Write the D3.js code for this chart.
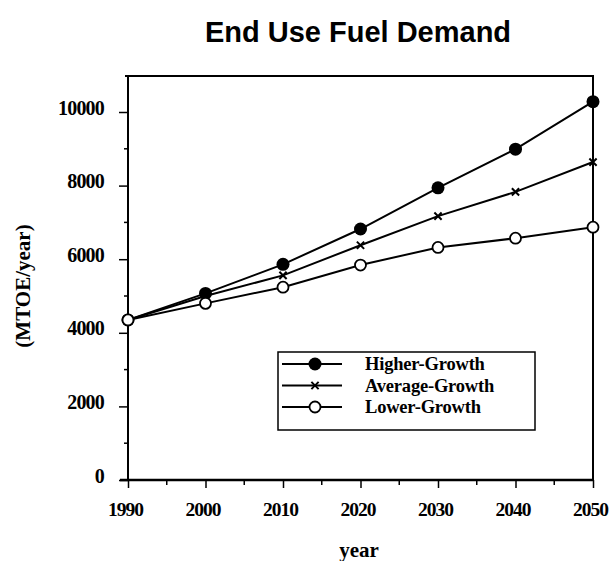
<!DOCTYPE html>
<html>
<head>
<meta charset="utf-8">
<script src="https://cdn.jsdelivr.net/npm/d3@7"></script>
<style>
  body { margin: 0; background: #fff; }
  text { fill: #000; }
  .serif { font-family: "Liberation Serif", "Times New Roman", serif; font-weight: bold; }
</style>
</head>
<body>
<script>
	// data
	var years = [1990, 2000, 2010, 2020, 2030, 2040, 2050];
	var higherGrowth = [4350, 5070, 5860, 6820, 7940, 8990, 10280];
	var averageGrowth = [4350, 5000, 5560, 6380, 7170, 7830, 8640];
	var lowerGrowth = [4350, 4800, 5240, 5840, 6320, 6570, 6870];
	var yTicks = [0, 2000, 4000, 6000, 8000, 10000];
	var xTicks = [1990, 2000, 2010, 2020, 2030, 2040, 2050];
	var seriesNames = ["Higher-Growth", "Average-Growth", "Lower-Growth"];

	var width = 611, height = 561;
	var margin = {top: 76, right: 18, bottom: 81, left: 128};

	var svg = d3.select("body").append("svg")
	    .attr("width", width)
	    .attr("height", height);

	var x = d3.scaleLinear().domain([1990, 2050]).range([margin.left, width - margin.right]);
	var y = d3.scaleLinear().domain([0, 10000]).range([height - margin.bottom, height - margin.bottom - 368]);

	// title
	svg.append("text")
	    .attr("x", 358).attr("y", 42)
	    .attr("text-anchor", "middle")
	    .style("font-family", "'Liberation Sans', Arial, sans-serif")
	    .style("font-weight", "bold")
	    .style("font-size", "29px")
	    .text("End Use Fuel Demand");

	// frame top + right
	svg.append("path")
	    .attr("d", "M" + (x(1990) - 3) + "," + margin.top + "H" + x(2050) + "V" + y(0))
	    .attr("fill", "none").attr("stroke", "#000").attr("stroke-width", 2);

	// y axis
	var yAxis = d3.axisLeft(y).tickValues(yTicks).tickSize(9).tickFormat(d3.format("d"));
	var gy = svg.append("g").attr("transform", "translate(" + x(1990) + ",0)").call(yAxis);
	gy.select(".domain").attr("d", "M0," + y(0) + "V" + margin.top).attr("stroke-width", 2);
	gy.selectAll(".tick line").attr("stroke-width", 1.5);
	gy.selectAll(".tick text")
	    .attr("class", "serif")
	    .attr("x", -24).attr("dy", "0.1em")
	    .style("font-size", "20px")
	    .style("letter-spacing", "-0.8px");
	gy.selectAll(".minor").data(d3.range(1000, 10001, 2000)).enter()
	    .append("line").attr("class", "minor")
	    .attr("x1", -4).attr("x2", 0)
	    .attr("y1", function(d){ return y(d); }).attr("y2", function(d){ return y(d); })
	    .attr("stroke", "#000").attr("stroke-width", 1.5);

	// x axis
	var xAxis = d3.axisBottom(x).tickValues(xTicks).tickSize(8).tickFormat(d3.format("d"));
	var gx = svg.append("g").attr("transform", "translate(0," + y(0) + ")").call(xAxis);
	gx.select(".domain").attr("d", "M" + (x(1990) - 8) + ",0H" + x(2050)).attr("stroke-width", 2.5);
	gx.selectAll(".tick line").attr("stroke-width", 1.5);
	gx.selectAll(".tick text")
	    .attr("class", "serif")
	    .attr("y", 22).attr("dx", -3)
	    .style("font-size", "19.5px")
	    .style("letter-spacing", "-1px");
	gx.selectAll(".minor").data(d3.range(1995, 2050, 10)).enter()
	    .append("line").attr("class", "minor")
	    .attr("y1", 0).attr("y2", 5)
	    .attr("x1", function(d){ return x(d); }).attr("x2", function(d){ return x(d); })
	    .attr("stroke", "#000").attr("stroke-width", 1.5);

	// axis titles
	svg.append("text").attr("class", "serif")
	    .attr("x", 359).attr("y", 557)
	    .attr("text-anchor", "middle")
	    .style("font-size", "21px")
	    .text("year");
	svg.append("text").attr("class", "serif")
	    .attr("transform", "translate(30,286) rotate(-90)")
	    .attr("text-anchor", "middle")
	    .style("font-size", "21px")
	    .text("(MTOE/year)");

	var line = d3.line()
	    .x(function(d, i){ return x(years[i]); })
	    .y(function(d){ return y(d); });

	var allSeries = [higherGrowth, averageGrowth, lowerGrowth];
	var lines = svg.append("g");
	lines.selectAll("path").data(allSeries).enter()
	    .append("path")
	    .attr("d", line)
	    .attr("fill", "none").attr("stroke", "#000").attr("stroke-width", 2);

	// marker drawing helper
	function marker(sel, kind) {
		if (kind === 0) {
			sel.append("circle").attr("r", 6.5).attr("fill", "#000");
		} else if (kind === 1) {
			sel.append("path").attr("d", d3.symbol(d3.symbolX, 36)).attr("stroke", "#000").attr("stroke-width", 2);
		} else {
			sel.append("circle").attr("r", 5.5).attr("fill", "#fff").attr("stroke", "#000").attr("stroke-width", 1.8);
		}
	}

	allSeries.forEach(function(s, k){
		svg.append("g").selectAll("g").data(s).enter()
		    .append("g")
		    .attr("transform", function(d, i){ return "translate(" + x(years[i]) + "," + y(d) + ")"; })
		    .each(function(){ marker(d3.select(this), k); });
	});

	// legend
	var legend = svg.append("g").attr("transform", "translate(278,352)");
	legend.append("rect")
	    .attr("width", 257).attr("height", 78)
	    .attr("fill", "#fff").attr("stroke", "#000").attr("stroke-width", 1.5);
	var items = legend.selectAll(".item").data(seriesNames).enter()
	    .append("g").attr("class", "item")
	    .attr("transform", function(d, i){ return "translate(0," + (12 + i * 21.5) + ")"; });
	items.append("line")
	    .attr("x1", 4).attr("x2", 64)
	    .attr("stroke", "#000").attr("stroke-width", 1.8);
	items.append("g").attr("transform", "translate(37,0)")
	    .each(function(d, i){ marker(d3.select(this), i); });
	items.append("text").attr("class", "serif")
	    .attr("x", 87).attr("y", 6)
	    .style("font-size", "18.5px")
	    .style("letter-spacing", "-0.2px")
	    .text(function(d){ return d; });
</script>
</body>
</html>
